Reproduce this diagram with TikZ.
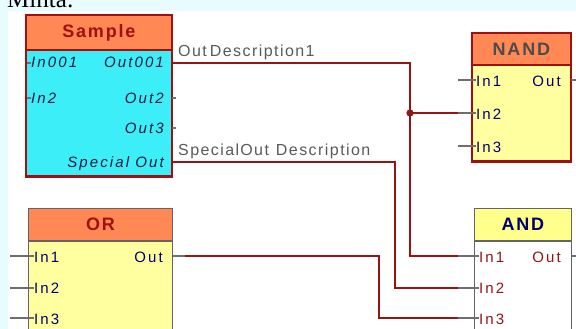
\documentclass[tikz,border=0pt]{standalone}
\usepackage{fontspec}
\setmainfont{Liberation Serif}
\setsansfont{Liberation Sans}
\newfontfamily\pinfont[LetterSpace=14]{Liberation Sans}
\newfontfamily\headfont[LetterSpace=10]{Liberation Sans}
\newfontfamily\descfont[LetterSpace=9]{Liberation Sans}
\usetikzlibrary{positioning, calc}
\definecolor{PageCyan}{RGB}{232,252,255}
\definecolor{HeadOrange}{RGB}{255,136,84}
\definecolor{HeadYellow}{RGB}{255,255,140}
\definecolor{BodyCyan}{RGB}{60,238,248}
\definecolor{BodyYellow}{RGB}{255,255,160}
\definecolor{FrameRed}{RGB}{160,16,16}
\definecolor{WireRed}{RGB}{150,20,20}
\definecolor{StubGray}{RGB}{110,110,110}
\definecolor{FrameGray}{RGB}{100,100,100}
\definecolor{PinNavy}{RGB}{0,0,110}
\definecolor{PinDark}{RGB}{25,25,60}
\definecolor{DescGray}{RGB}{90,90,90}

\begin{document}
\begin{tikzpicture}[x=1pt, y=-1pt,
    head/.style={anchor=north west, inner sep=0pt, draw, line width=0.8pt, font=\headfont\bfseries\fontsize{18}{20}\selectfont},
    body/.style={anchor=north, inner sep=0pt, draw, line width=0.8pt},
    redframe/.style={draw=FrameRed, line width=2.6pt},
    grayframe/.style={draw=FrameGray, line width=1pt},
    pinl/.style={anchor=base west, inner sep=0pt, font=\pinfont\fontsize{15}{17}\selectfont},
    pinr/.style={anchor=base east, inner sep=0pt, font=\pinfont\fontsize{15}{17}\selectfont},
    desc/.style={anchor=base west, inner sep=0pt, text=DescGray, font=\descfont\fontsize{16}{18}\selectfont},
    wire/.style={draw=WireRed, line width=1.3pt},
    stub/.style={draw=StubGray, line width=1.3pt}
  ]
  \useasboundingbox (0,0) rectangle (576,329);
  \clip (0,0) rectangle (576,329);
  \fill[PageCyan] (0,0) rectangle (576,329);
  \fill[white] (8,11) rectangle (576,329);
  \node[anchor=base west, inner sep=0pt, font=\fontsize{25}{28}\selectfont] (title) at (7,8) {Minta:};

  % Sample block
  \node[head, fill=HeadOrange, draw=FrameRed, text=FrameRed, minimum width=145pt, minimum height=34pt] (smp-head) at (26,15) {Sample};
  \node[body, fill=BodyCyan, draw=FrameRed, minimum width=145pt, minimum height=126pt] (smp-body) at (smp-head.south) {};
  \draw[redframe] (smp-head.north west) rectangle (smp-body.south east);
  \node[pinl, text=PinDark, font=\pinfont\itshape\fontsize{15}{17}\selectfont] (smp-in1) at (31,68) {In001};
  \node[pinl, text=PinDark, font=\pinfont\itshape\fontsize{15}{17}\selectfont] (smp-in2) at (31,103) {In2};
  \node[pinr, text=PinDark, font=\pinfont\itshape\fontsize{15}{17}\selectfont] (smp-out1) at (164,68) {Out001};
  \node[pinr, text=PinDark, font=\pinfont\itshape\fontsize{15}{17}\selectfont] (smp-out2) at (164,103) {Out2};
  \node[pinr, text=PinDark, font=\pinfont\itshape\fontsize{15}{17}\selectfont] (smp-out3) at (164,133) {Out3};
  \node[pinr, text=PinDark, font=\pinfont\itshape\fontsize{15}{17}\selectfont] (smp-out4) at (164,167) {Special Out};

  % NAND block
  \node[head, fill=HeadOrange, draw=FrameRed, text=black!70, minimum width=98pt, minimum height=31pt] (nand-head) at (472,33) {NAND};
  \node[body, fill=BodyYellow, draw=FrameRed, minimum width=98pt, minimum height=96pt] (nand-body) at (nand-head.south) {};
  \draw[redframe] (nand-head.north west) rectangle (nand-body.south east);
  \node[pinl, text=PinNavy] (nand-in1) at (476,86) {In1};
  \node[pinl, text=PinNavy] (nand-in2) at (476,119) {In2};
  \node[pinl, text=PinNavy] (nand-in3) at (476,152) {In3};
  \node[pinr, text=PinNavy] (nand-out) at (561,86) {Out};

  % OR block
  \node[head, fill=HeadOrange, draw=FrameGray, text=FrameRed, minimum width=144pt, minimum height=32pt] (or-head) at (28,208) {OR};
  \node[body, fill=BodyYellow, draw=FrameGray, minimum width=144pt, minimum height=110pt] (or-body) at (or-head.south) {};
  \draw[grayframe] (or-head.north west) rectangle (or-body.south east);
  \node[pinl, text=PinNavy] (or-in1) at (34,262) {In1};
  \node[pinl, text=PinNavy] (or-in2) at (34,293) {In2};
  \node[pinl, text=PinNavy] (or-in3) at (34,324) {In3};
  \node[pinr, text=PinNavy] (or-out) at (163,262) {Out};

  % AND block
  \node[head, fill=HeadYellow, draw=FrameGray, text=PinNavy, minimum width=97pt, minimum height=32pt] (and-head) at (474,208) {AND};
  \node[body, fill=white, draw=FrameGray, minimum width=97pt, minimum height=110pt] (and-body) at (and-head.south) {};
  \draw[grayframe] (and-head.north west) rectangle (and-body.south east);
  \node[pinl, text=WireRed] (and-in1) at (479,262) {In1};
  \node[pinl, text=WireRed] (and-in2) at (479,293) {In2};
  \node[pinl, text=WireRed] (and-in3) at (479,324) {In3};
  \node[pinr, text=WireRed] (and-out) at (561,262) {Out};

  % pin terminals
  \coordinate (smp-t1) at (176,63);
  \coordinate (smp-t4) at (176,162);
  \coordinate (nand-t2) at (458,113);
  \coordinate (or-t) at (185,256);
  \coordinate (and-t1) at (458,256);
  \coordinate (and-t2) at (458,288);
  \coordinate (and-t3) at (458,318);
  \coordinate (jn) at (410,113);

  % stubs
  \draw[stub] (27,63) -- (smp-in1.west |- 0,63);
  \draw[stub] (27,98) -- (smp-in2.west |- 0,98);
  \draw[stub] (smp-body.east |- 0,98) -- ++(4,0);
  \draw[stub] (smp-body.east |- 0,128) -- ++(4,0);
  \draw[stub] (nand-t2 |- 0,80) -- (nand-in1.west |- 0,80);
  \draw[stub] (nand-t2) -- (nand-in2.west |- nand-t2);
  \draw[stub] (nand-t2 |- 0,146) -- (nand-in3.west |- 0,146);
  \draw[stub] (nand-body.east |- 0,80) -- ++(8,0);
  \draw[stub] (10,256) -- (or-in1.west |- 0,256);
  \draw[stub] (10,288) -- (or-in2.west |- 0,288);
  \draw[stub] (10,318) -- (or-in3.west |- 0,318);
  \draw[stub] (or-body.east |- or-t) -- (or-t);
  \draw[stub] (and-t1) -- (and-in1.west |- and-t1);
  \draw[stub] (and-t2) -- (and-in2.west |- and-t2);
  \draw[stub] (and-t3) -- (and-in3.west |- and-t3);
  \draw[stub] (and-body.east |- and-t1) -- ++(8,0);

  % wires
  \draw[wire] (smp-body.east |- smp-t1) -| (jn) |- (and-t1);
  \draw[wire] (jn) -- (nand-t2);
  \fill[WireRed] (jn) circle (3.6);
  \draw[wire] (smp-body.east |- smp-t4) -| ([xshift=-63pt]and-t2) -- (and-t2);
  \draw[wire] (or-t) -| ([xshift=-79pt]and-t3) -- (and-t3);

  \node[desc] (desc1) at (178,57) {Out\kern3pt Description1};
  \node[desc] (desc4) at (178,155) {Special\kern1pt Out\kern7pt Description};
\end{tikzpicture}
\end{document}
